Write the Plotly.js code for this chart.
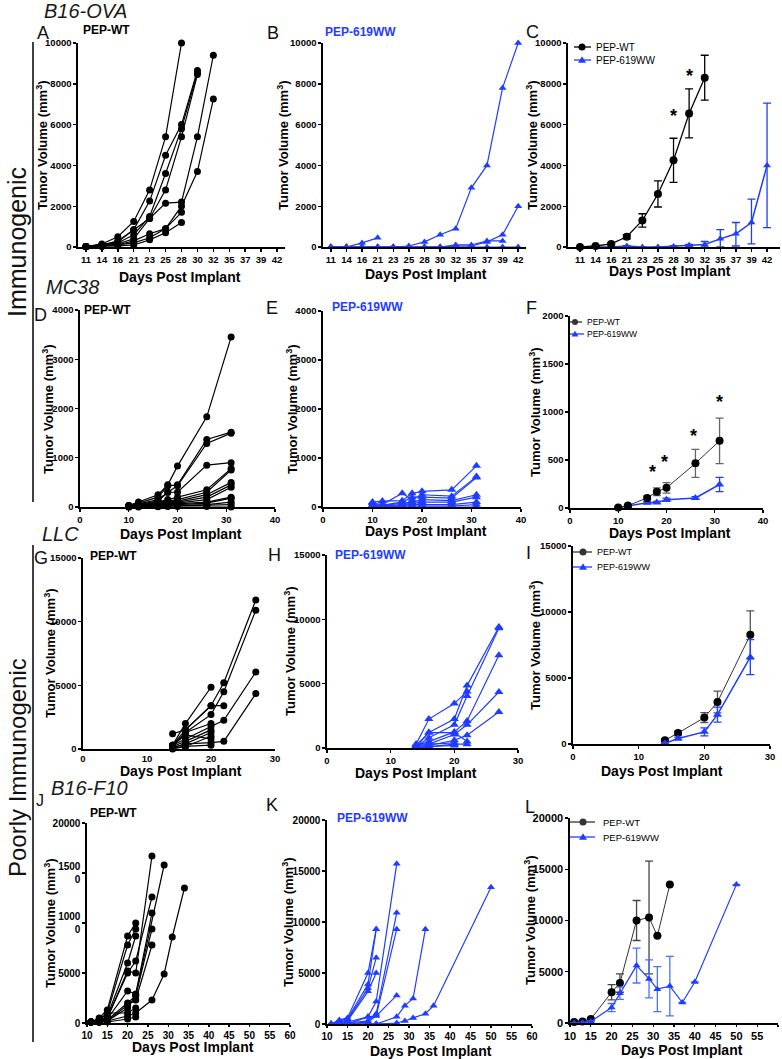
<!DOCTYPE html>
<html><head><meta charset="utf-8">
<script src="https://cdn.plot.ly/plotly-3.0.1.min.js"></script>
<style>html,body{margin:0;padding:0;background:#fff}#chart{width:782px;height:1059px}</style>
</head><body><div id="chart"></div>
<script>
// ---------------- DATA ----------------
// B16-OVA (categorical days)
const catsOVA = ['11','14','16','21','23','25','28','30','32','35','37','39','42'];
const a1 = [20,150,500,1250,2800,5400,10000];
const a2 = [20,100,300,850,2250,4500,6000,8650];
const a3 = [20,100,200,600,1500,3600,5800,8550];
const a4 = [20,50,150,400,1400,2800,5400,8450];
const a5 = [20,100,250,850,1400,2150,2200,5400,9400];
const a6 = [20,50,100,300,650,900,2000,3700,7250];
const a7 = [20,50,100,200,450,900,1700];
const a8 = [20,30,50,100,350,700,1200];
const b1 = [0,0,200,450];
const b2 = [0,0,0,0,0,50,250,600,900,2900,4000,7800,10000];
const b3 = [0,0,0,0,0,0,0,0,50,50,250,600,2000];
const b4 = [0,0,0,0,0,0,0,0,100,100,300,300];
const b5 = [0,0,0,0,0,0,0,0,0,0,0,0,0];
const cWT = [0,50,150,500,1300,2600,4250,6550,8300];
const cWTerr = [20,30,50,100,330,640,1080,1200,1100];
const cWW = [0,0,0,50,0,0,30,80,120,400,650,1200,4000];
const cWWerrUp = [0,0,0,20,0,0,20,50,150,450,550,1150,3050];
const cWWerrDn = [0,0,0,20,0,0,20,50,120,400,600,1050,3050];
const cStarCats = ['28','30','32'];
const cStarY = [6600,8600,10050];

// MC38
const daysMC = [10,12,16,18,20,26,31];
const d1 = [30,100,250,450,830,1830,3450];
const d2 = [30,80,200,430,450,1370,1520];
const d3 = [20,60,150,300,430,1290,1500];
const d4 = [20,50,120,300,300,850,900];
const d5 = [20,50,100,150,200,350,780];
const d6 = [10,40,100,120,150,300,750];
const d7 = [10,30,80,100,120,250,500];
const d8 = [10,30,60,80,100,200,450];
const d9 = [10,20,50,60,80,150,400];
const d10 = [10,20,40,50,60,100,200];
const d11 = [5,10,30,40,50,80,180];
const d12 = [5,10,20,30,40,50,100];
const d13 = [0,5,10,20,20,30,50];
const d14 = [0,0,5,10,10,10,0];
const e1 = [100,120,130,280,320,350,840];
const e2 = [80,50,280,150,250,220,620];
const e3 = [50,40,100,200,200,180,600];
const e4 = [30,30,80,100,150,130,250];
const e5 = [20,20,50,80,100,100,200];
const e6 = [10,10,30,50,50,50,100];
const e7 = [10,0,20,20,20,20,50];
const e8 = [0,0,0,10,0,0,0];
const fWT = [5,25,105,170,210,465,700];
const fWTerr = [5,10,20,40,55,145,237];
const fWW = [5,20,55,58,87,104,245];
const fWWerr = [3,5,10,10,15,15,75];
const fStarX = [17,19.5,25.5,31];
const fStarY = [421,525,793,1141];

// LLC
const daysLLC = [14,16,20,22,27];
const g1 = [300,1500,3400,5200,11700];
const g2 = [200,1300,2700,4500,10900];
const g3 = [300,800,1800,2250,6050];
const g4 = [100,400,500,600,4350];
const g5 = [300,2000,4850];
const g6 = [1200,1500,3400,3400];
const g7 = [200,600,1500];
const g8 = [100,400,1300];
const g9 = [0,200,1000];
const g10 = [300,1100,800];
const g11 = [100,200,300];
const g12 = [200,1300,2000];
const h1 = [300,2250,3450,4400];
const h2 = [200,1200,2250,4850,9400];
const h3 = [100,800,1800,4050,9300];
const h4 = [200,500,1250,2100,7200];
const h5 = [100,300,1050,1800,4350];
const h6 = [0,200,600,1000,2800];
const h7 = [100,1200,1200,500];
const h8 = [0,100,300,300];
const h9 = [0,100,200];
const h10 = [300,300,400];
const iWT = [280,830,2000,3180,8270];
const iWTerr = [100,150,370,820,1820];
const iWW = [50,420,920,2220,6580];
const iWWerr = [50,100,300,570,1330];

// B16-F10
const daysJ = [11,13,15,20,22,26,29,31,34];
const j1 = [100,500,1300,8700,10000];
const j2 = [100,300,1000,7800,9400];
const j3 = [100,200,700,6000,8700];
const j4 = [100,200,500,5200,5000,16700];
const j5 = [100,300,500,5000,6200,12600];
const j6 = [100,100,400,3200,2900,11000];
const j7 = [100,100,300,2000,2700,9400];
const j8 = [100,100,200,1800,2300,7800];
const j9 = [100,100,200,1500,2800,null,15800];
const j10 = [100,100,200,700,1000,2300,4900,8600,13500];
const j11 = [100,100,100,400,600];
const j12 = [100,300,1000,1000,1500];
const daysK = [11,13,15,20,22,27,29,31,34,36,50];
const k1 = [0,400,600,5000,9300];
const k2 = [0,300,500,3900,9300];
const k3 = [0,200,400,3500,6500];
const k4 = [0,100,300,3200,5000];
const k5 = [0,0,200,700,2200,15700];
const k6 = [0,0,100,300,1000,10900];
const k7 = [0,0,0,200,800,9300];
const k8 = [0,0,0,700,800,2800];
const k9 = [0,0,0,0,0,700,1800,2500,9300];
const k10 = [0,0,0,0,0,100,300,600,1000,1800,13400];
const k11 = [0,0,0,0,0,0];
const daysLWT = [11,13,15,20,22,26,29,31,34];
const lWT = [100,150,380,3000,3900,10000,10300,8500,13500];
const lWTerr = [30,50,100,750,900,1950,5500,0,0];
const daysLWW = [11,13,15,20,22,26,29,31,34,37,40,50];
const lWW = [0,50,150,1500,2900,5600,4300,3300,3600,2000,4000,13500];
const lWWerr = [0,20,50,400,600,1700,1850,2200,2900,0,0,0];

// ---------------- BUILD ----------------
const W=782,H=1059;
const FONT='"Liberation Sans", Arial, Helvetica, sans-serif';
const BLACK='#000000', BLUE='#1f3dff';
const px=x=>x/W, py=y=>1-y/H;
const idxOVA = catsOVA.map((c,i)=>i);
const traces=[];
const ax=n=>n===1?'':String(n);

function spaghetti(n, xs, series, color, symbol, size){
  series.forEach(s=>{
    traces.push({type:'scatter',mode:'lines+markers',x:xs.slice(0,s.length),y:s,
      xaxis:'x'+ax(n),yaxis:'y'+ax(n),connectgaps:true,cliponaxis:false,
      line:{color:color,width:1.2},marker:{color:color,symbol:symbol,size:size},hoverinfo:'skip'});
  });
}
function meanTrace(n, xs, ys, up, dn, color, lineColor, errColor, symbol, size, lw){
  traces.push({type:'scatter',mode:'lines+markers',x:xs,y:ys,xaxis:'x'+ax(n),yaxis:'y'+ax(n),
    cliponaxis:false,line:{color:lineColor,width:lw},marker:{color:color,symbol:symbol,size:size},
    error_y:{type:'data',array:up,arrayminus:dn,visible:true,color:errColor,thickness:1.3,width:4},hoverinfo:'skip'});
}

const layout={width:W,height:H,margin:{l:0,r:0,t:0,b:0},showlegend:false,
  paper_bgcolor:'#ffffff',plot_bgcolor:'rgba(0,0,0,0)',annotations:[],shapes:[]};

function axes(n,x0,x1,y0,y1,xa,ya,fs){
  const k=ax(n);
  const mk=()=>({showline:true,linecolor:'#000',linewidth:1.6,ticks:'outside',ticklen:3,tickwidth:1.4,
    tickcolor:'#000',showgrid:false,zeroline:false,fixedrange:true,tickformat:'d',exponentformat:'none',
    tickfont:{family:FONT,size:fs||9.5,color:'#000',weight:'bold'}});
  layout['xaxis'+k]=Object.assign(mk(),{domain:[px(x0),px(x1)],anchor:'y'+k},xa);
  layout['yaxis'+k]=Object.assign(mk(),{domain:[py(y1),py(y0)],anchor:'x'+k},ya);
}
function ann(text,x,y,o){
  layout.annotations.push(Object.assign({text:text,x:px(x),y:py(y),xref:'paper',yref:'paper',showarrow:false,
    xanchor:'center',yanchor:'middle',font:{family:FONT,size:12,color:'#000'}},o||{}));
}
function star(n,x,y){
  layout.annotations.push({text:'*',x:x,y:y,xref:'x'+ax(n),yref:'y'+ax(n),showarrow:false,
    xanchor:'center',yanchor:'middle',yshift:-4,font:{family:FONT,size:18,color:'#000',weight:'bold'}});
}
function legendEntry(xl0,xl1,xm,y,color,symbol,label,fs,tx,r){
  layout.shapes.push({type:'line',xref:'paper',yref:'paper',x0:px(xl0),x1:px(xl1),y0:py(y),y1:py(y),line:{color:color,width:1.3}});
  if(symbol==='circle'){
    layout.shapes.push({type:'circle',xref:'paper',yref:'paper',x0:px(xm-r),x1:px(xm+r),y0:py(y+r),y1:py(y-r),fillcolor:color,line:{width:0}});
  } else {
    const p='M '+px(xm-r-0.5)+' '+py(y+r*0.8)+' L '+px(xm+r+0.5)+' '+py(y+r*0.8)+' L '+px(xm)+' '+py(y-r*1.1)+' Z';
    layout.shapes.push({type:'path',xref:'paper',yref:'paper',path:p,fillcolor:color,line:{width:0}});
  }
  ann(label,tx,y,{xanchor:'left',font:{family:FONT,size:fs,color:'#000'}});
}

// Axes
const ovaX = {range:[-0.5,12.5],tickvals:idxOVA,ticktext:catsOVA};
const ovaY = {range:[0,10000],tickvals:[0,2000,4000,6000,8000,10000]};
axes(1,78,285,43,247,ovaX,ovaY);
axes(2,323,526,43,247,ovaX,ovaY);
axes(3,568,780,43,247,{range:[-0.77,12.83],tickvals:idxOVA,ticktext:catsOVA},ovaY);
const mcX={range:[0,40],tickvals:[0,10,20,30,40]};
const mcY={range:[0,4000],tickvals:[0,1000,2000,3000,4000]};
axes(4,80,275,310,507,mcX,mcY);
axes(5,323,521,311,507,mcX,mcY);
axes(6,570,763,316,508,mcX,{range:[0,2000],tickvals:[0,500,1000,1500,2000]});
const llY={range:[0,15000],tickvals:[0,5000,10000,15000]};
axes(7,83,275,558,749,{range:[0,30],tickvals:[0,10,20,30],ticks:''},llY);
axes(8,327,518,555,748,{range:[0,30],tickvals:[0,10,20,30]},llY);
axes(9,573,770,546,744,{range:[0,30],tickvals:[0,10,20,30]},llY);
const fX={range:[10,60],tickvals:[10,15,20,25,30,35,40,45,50,55,60],ticklen:2};
axes(10,87,290,823,1023,fX,{range:[0,20000],tickvals:[0,5000,10000,15000,20000],ticktext:['0','5000','1000<br>0','1500<br>0','20000']},10);
axes(11,327,532,820,1024,fX,{range:[0,20000],tickvals:[0,5000,10000,15000,20000]},10);
axes(12,570,778,818,1023,fX,{range:[0,20000],tickvals:[0,5000,10000,15000,20000]},11);

// Traces
spaghetti(1,idxOVA,[a1,a2,a3,a4,a5,a6,a7,a8],BLACK,'circle',7);
spaghetti(2,idxOVA,[b5,b4,b3,b1,b2],BLUE,'triangle-up',7);
meanTrace(3,idxOVA.slice(0,cWW.length),cWW,cWWerrUp,cWWerrDn,BLUE,BLUE,BLUE,'triangle-up',7,1.5);
meanTrace(3,idxOVA.slice(0,cWT.length),cWT,cWTerr,cWTerr,BLACK,BLACK,BLACK,'circle',8,1.3);
spaghetti(4,daysMC,[d1,d2,d3,d4,d5,d6,d7,d8,d9,d10,d11,d12,d13,d14],BLACK,'circle',7);
spaghetti(5,daysMC,[e1,e2,e3,e4,e5,e6,e7,e8],BLUE,'triangle-up',8);
meanTrace(6,daysMC,fWW,fWWerr,fWWerr,BLUE,BLUE,BLUE,'triangle-up',8,1.5);
meanTrace(6,daysMC,fWT,fWTerr,fWTerr,BLACK,'#333333','#666666','circle',8,1);
spaghetti(7,daysLLC,[g1,g2,g3,g4,g5,g6,g7,g8,g9,g10,g11,g12],BLACK,'circle',7);
spaghetti(8,daysLLC,[h1,h2,h3,h4,h5,h6,h7,h8,h9,h10],BLUE,'triangle-up',8);
meanTrace(9,daysLLC,iWT,iWTerr,iWTerr,BLACK,'#333333','#555555','circle',8,1);
meanTrace(9,daysLLC,iWW,iWWerr,iWWerr,BLUE,BLUE,BLUE,'triangle-up',8,1.5);
spaghetti(10,daysJ,[j1,j2,j3,j4,j5,j6,j7,j8,j9,j10,j11,j12],BLACK,'circle',7);
spaghetti(11,daysK,[k11,k1,k2,k3,k4,k5,k6,k7,k8,k9,k10],BLUE,'triangle-up',7);
meanTrace(12,daysLWT,lWT,lWTerr,lWTerr,BLACK,'#333333','#444444','circle',8,1);
meanTrace(12,daysLWW,lWW,lWWerr,lWWerr,BLUE,BLUE,'#4a72ff','triangle-up',7,1.2);

// Asterisks
cStarCats.forEach((c,i)=>star(3,catsOVA.indexOf(c),cStarY[i]));
fStarX.forEach((x,i)=>star(6,x,fStarY[i]));

// Legends
legendEntry(574,591,582,47,BLACK,'circle','PEP-WT',10,594,3.5);
legendEntry(574,591,582,60,BLUE,'triangle','PEP-619WW',10,594,3.5);
legendEntry(570,582,575,322,'#333','circle','PEP-WT',8.5,585,3);
legendEntry(570,584,575,334,BLUE,'triangle','PEP-619WW',8.5,585,3);
legendEntry(573,592,583,552,'#333','circle','PEP-WT',9,595,3.5);
legendEntry(573,592,583,567,BLUE,'triangle','PEP-619WW',9,595,3.5);
legendEntry(570,595,583,822,'#333','circle','PEP-WT',9.5,601,3.5);
legendEntry(570,595,583,837,BLUE,'triangle','PEP-619WW',9.5,601,3.5);

// Axis titles
const yT='Tumor Volume (mm<sup>3</sup>)', xT='Days Post Implant';
const yTitle=[[42,145],[283,145],[532,145],[48,409],[292,409],[535,412],[50,653],[290,651],[535,645],[50,923],[288,922],[530,920]];
yTitle.forEach(p=>ann(yT,p[0],p[1],{textangle:-90,font:{family:FONT,size:13,color:'#000',weight:'bold'}}));
const xTitle=[[180,277],[426,274],[670,271],[181,534],[426,531],[670,533],[181,771],[416,773],[662,771],[193,1047],[431,1051],[682,1050]];
xTitle.forEach(p=>ann(xT,p[0],p[1],{font:{family:FONT,size:14,color:'#000',weight:'bold'}}));

// Panel letters
const letters=[['A',43,33],['B',273,33],['C',532,32],['D',40,315],['E',272,308],['F',531,308],['G',41,558],['H',274,555],['I',528,553],['J',40,800],['K',272,805],['L',530,807]];
letters.forEach(l=>ann(l[0],l[1],l[2],{font:{family:FONT,size:l[0]==='J'?16:18,color:'#111'}}));

// Group subtitles
const subs=[['PEP-WT',81,30,BLACK],['PEP-619WW',323,32,BLUE],['PEP-WT',82,310,BLACK],['PEP-619WW',330,307,BLUE],
  ['PEP-WT',88,556,BLACK],['PEP-619WW',333,555,BLUE],['PEP-WT',88,813,BLACK],['PEP-619WW',335,818,BLUE]];
subs.forEach(s=>ann(s[0],s[1],s[2],{xanchor:'left',font:{family:FONT,size:12,color:s[3],weight:'bold'}}));

// Cell line titles
[['B16-OVA',85,11],['MC38',72,287],['LLC',60,534],['B16-F10',89,788]].forEach(t=>
  ann(t[0],t[1],t[2],{font:{family:FONT,size:20,color:'#1a1a1a',style:'italic'}}));

// Immunogenicity groups
ann('Immunogenic',17,242,{textangle:-90,font:{family:FONT,size:25,color:'#111'}});
ann('Poorly Immunogenic',17,768,{textangle:-90,font:{family:FONT,size:24,color:'#111'}});
layout.shapes.push({type:'line',xref:'paper',yref:'paper',x0:px(33),x1:px(33),y0:py(42),y1:py(502),line:{color:'#000',width:1.5}});
layout.shapes.push({type:'line',xref:'paper',yref:'paper',x0:px(33),x1:px(33),y0:py(545),y1:py(1042),line:{color:'#000',width:1.5}});

Plotly.newPlot('chart',traces,layout,{staticPlot:true,displayModeBar:false});
</script></body></html>
